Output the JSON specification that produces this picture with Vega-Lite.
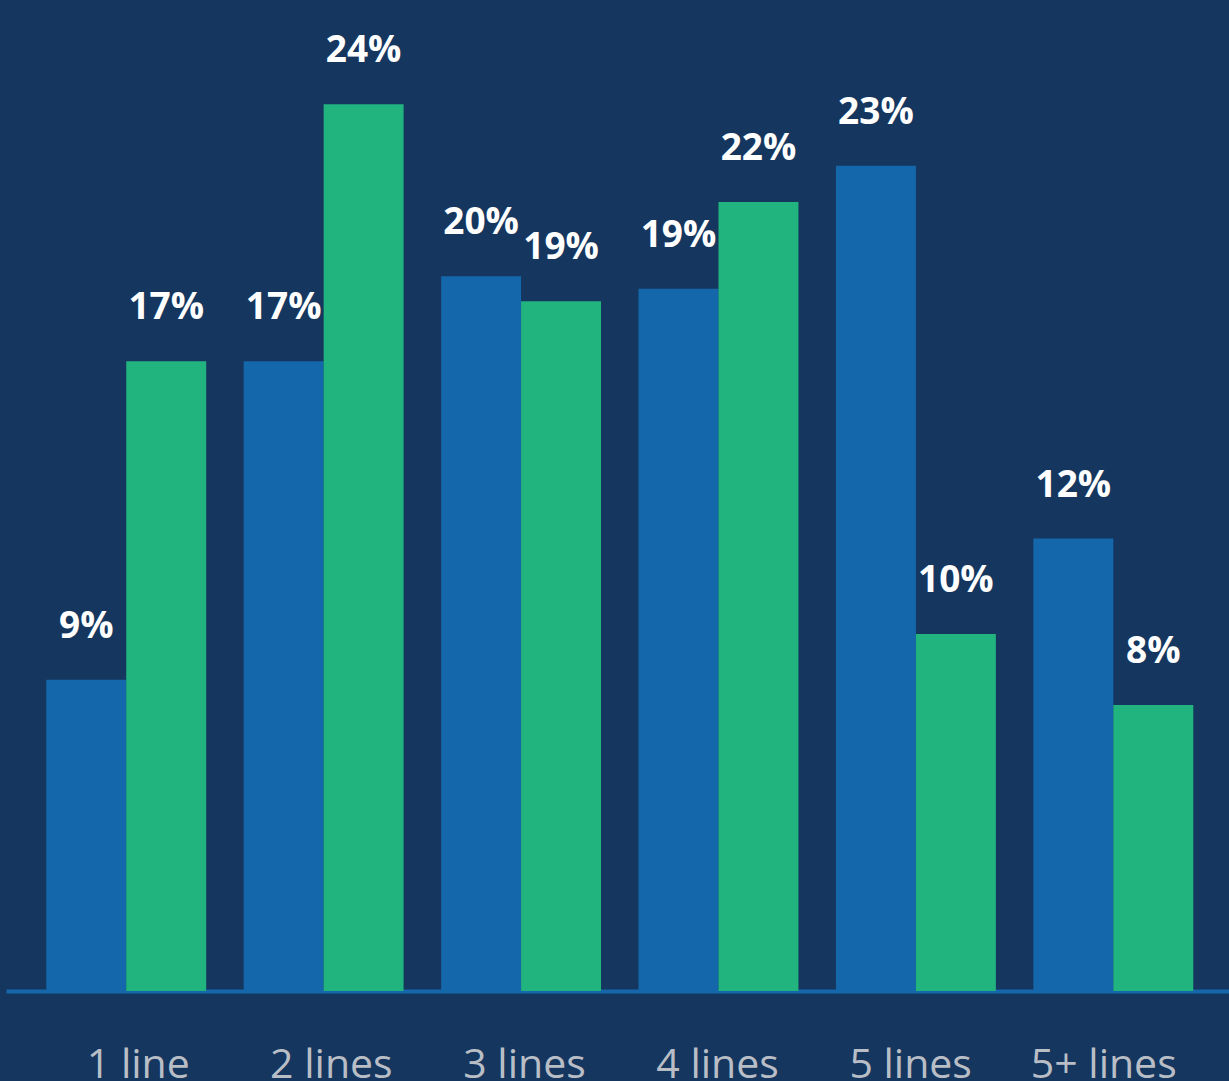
{
  "$schema": "https://vega.github.io/schema/vega-lite/v6.json",
  "width": 1223,
  "height": 991,
  "autosize": {"type": "none"},
  "padding": {"left": 6, "top": 0, "right": 0, "bottom": 90},
  "background": "#15375f",
  "config": {"view": {"stroke": null}},
  "data": {
    "values": [
      {"lines": "1 line", "series": "Series 1", "value": 8.6, "label": "9%"},
      {"lines": "1 line", "series": "Series 2", "value": 17.4, "label": "17%"},
      {"lines": "2 lines", "series": "Series 1", "value": 17.4, "label": "17%"},
      {"lines": "2 lines", "series": "Series 2", "value": 24.5, "label": "24%"},
      {"lines": "3 lines", "series": "Series 1", "value": 19.75, "label": "20%"},
      {"lines": "3 lines", "series": "Series 2", "value": 19.06, "label": "19%"},
      {"lines": "4 lines", "series": "Series 1", "value": 19.4, "label": "19%"},
      {"lines": "4 lines", "series": "Series 2", "value": 21.8, "label": "22%"},
      {"lines": "5 lines", "series": "Series 1", "value": 22.8, "label": "23%"},
      {"lines": "5 lines", "series": "Series 2", "value": 9.86, "label": "10%"},
      {"lines": "5+ lines", "series": "Series 1", "value": 12.5, "label": "12%"},
      {"lines": "5+ lines", "series": "Series 2", "value": 7.9, "label": "8%"}
    ]
  },
  "layer": [
    {
      "mark": {"type": "bar"},
      "encoding": {
        "x": {"field": "lines", "type": "nominal", "sort": null, "axis": null,
              "scale": {"paddingInner": 0.19, "paddingOuter": 0.1925, "align": 0.53}},
        "xOffset": {"field": "series", "type": "nominal", "scale": {"type": "band", "paddingInner": 0, "paddingOuter": 0}},
        "y": {"field": "value", "type": "quantitative", "axis": null, "scale": {"domain": [0, 27.38], "nice": false}},
        "color": {"field": "series", "type": "nominal", "legend": null,
                  "scale": {"domain": ["Series 1", "Series 2"], "range": ["#1467ab", "#21b47f"]}}
      }
    },
    {
      "mark": {"type": "text", "dy": -42, "baseline": "alphabetic", "align": "center", "font": "Open Sans", "fontWeight": "bold", "fontSize": 37, "color": "#ffffff"},
      "encoding": {
        "x": {"field": "lines", "type": "nominal", "sort": null, "axis": null,
              "scale": {"paddingInner": 0.19, "paddingOuter": 0.1925, "align": 0.53}},
        "xOffset": {"field": "series", "type": "nominal", "bandPosition": 0.5, "scale": {"type": "band", "paddingInner": 0, "paddingOuter": 0}},
        "y": {"field": "value", "type": "quantitative", "axis": null, "scale": {"domain": [0, 27.38], "nice": false}},
        "text": {"field": "label"}
      }
    },
    {
      "mark": {"type": "point", "opacity": 0},
      "encoding": {
        "x": {"field": "lines", "type": "nominal", "sort": null,
              "scale": {"type": "point", "padding": 0.667},
              "axis": {"title": null, "ticks": false, "grid": false, "domain": true,
                       "domainColor": "#1467ab", "domainWidth": 4, "labelAngle": 0,
                       "labelFont": "Open Sans", "labelFontSize": 41, "labelColor": "#b9bec6",
                       "labelBaseline": "alphabetic", "labelPadding": 86, "labelOffset": 3}}
      }
    }
  ],
  "resolve": {"scale": {"x": "independent", "xOffset": "independent"}}
}
